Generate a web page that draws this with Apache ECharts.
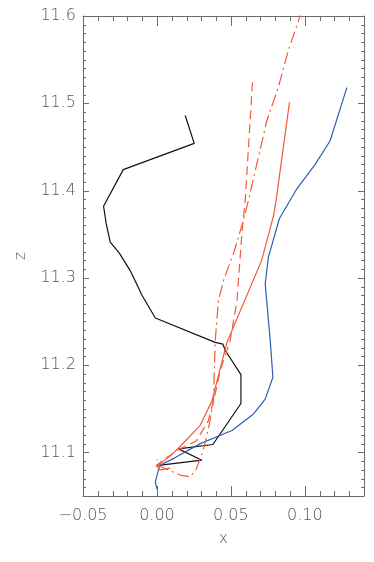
<!DOCTYPE html>
<html>
<head>
<meta charset="utf-8">
<script src="https://cdn.jsdelivr.net/npm/echarts@6/dist/echarts.min.js"></script>
<style>
html, body { margin: 0; padding: 0; background: #fff; }
#chart { width: 374px; height: 562px; }
</style>
</head>
<body>
<div id="chart"></div>
<script>
// 曲线数据 [x, z]
var blackLine = [[0.0191, 11.486], [0.0252, 11.454], [-0.0228, 11.424], [-0.0361, 11.382], [-0.0343, 11.362],
    [-0.0316, 11.341], [-0.0253, 11.328], [-0.0180, 11.308], [-0.0101, 11.280], [-0.0011, 11.254],
    [0.0394, 11.226], [0.0446, 11.224], [0.0461, 11.217], [0.0568, 11.189], [0.0568, 11.156],
    [0.0378, 11.109], [0.0146, 11.104], [0.0304, 11.091], [0.0011, 11.085]];
var blueLine = [[0.0000, 11.058], [-0.0011, 11.066], [0.0018, 11.085], [0.0124, 11.094], [0.0293, 11.110],
    [0.0507, 11.125], [0.0653, 11.144], [0.0732, 11.161], [0.0784, 11.186], [0.0766, 11.228],
    [0.0732, 11.293], [0.0754, 11.324], [0.0828, 11.368], [0.0946, 11.402], [0.1070, 11.430],
    [0.1171, 11.457], [0.1284, 11.518]];
var redSolid = [[0.0896, 11.501], [0.0806, 11.389], [0.0788, 11.371], [0.0708, 11.320], [0.0473, 11.226],
    [0.0372, 11.159], [0.0293, 11.131], [0.0203, 11.115], [0.0146, 11.105], [0.0090, 11.096],
    [0.0022, 11.087], [0.0000, 11.084], [0.0022, 11.080], [0.0090, 11.082]];
var redDashed = [[0.0646, 11.524], [0.0597, 11.389], [0.0574, 11.350], [0.0541, 11.274], [0.0495, 11.228],
    [0.0428, 11.194], [0.0394, 11.167], [0.0347, 11.136], [0.0266, 11.113], [0.0157, 11.104],
    [0.0056, 11.093], [-0.0005, 11.085], [0.0009, 11.079]];
var redDashDot = [[0.0980, 11.606], [0.0889, 11.561], [0.0822, 11.519], [0.0743, 11.480], [0.0676, 11.431],
    [0.0619, 11.389], [0.0585, 11.366], [0.0518, 11.328], [0.0450, 11.297], [0.0416, 11.274],
    [0.0394, 11.228], [0.0382, 11.159], [0.0353, 11.131], [0.0313, 11.102], [0.0266, 11.081],
    [0.0225, 11.072], [0.0157, 11.074], [0.0076, 11.080], [0.0009, 11.085], [0.0002, 11.092]];

// 刻度
var xRange = [-0.05, 0.14];
var yRange = [11.05, 11.6];
var xMajorTicks = [-0.05, 0.00, 0.05, 0.10];
var yMajorTicks = [11.1, 11.2, 11.3, 11.4, 11.5, 11.6];
var minorStep = 0.01;

var axisColor = '#6a6a6a';
var labelColor = '#555';
var labelFont = 'DejaVu Sans';

function fmtX(v) {
    return (v < 0 ? '\u2212' : '') + Math.abs(v).toFixed(2);
}

var labelStyle = { color: labelColor, fontSize: 16, fontFamily: labelFont, fontWeight: 300 };
var nameStyle = { color: labelColor, fontSize: 15, fontFamily: labelFont, fontWeight: 300 };
var lineStyleAxis = { color: axisColor, width: 1 };

function frameAxis(extra, range) {
    return echarts.util.merge({
        type: 'value', min: range[0], max: range[1],
        axisLine: { show: true, onZero: false, lineStyle: lineStyleAxis },
        axisTick: { show: false },
        splitLine: { show: false },
        axisLabel: { show: false }
    }, extra, true);
}

var xAxes = [
    frameAxis({
        position: 'bottom', minInterval: 0.05, maxInterval: 0.05,
        name: 'x', nameLocation: 'middle', nameGap: 36, nameTextStyle: nameStyle,
        axisLabel: echarts.util.extend({ show: true, margin: 12, showMaxLabel: false, formatter: fmtX }, labelStyle)
    }, xRange),
    frameAxis({ position: 'top' }, xRange)
];
var yAxes = [
    frameAxis({
        position: 'left', minInterval: 0.1, maxInterval: 0.1,
        name: 'z', nameLocation: 'middle', nameRotate: 90, nameGap: 54, nameTextStyle: nameStyle,
        axisLabel: echarts.util.extend({
            show: true, margin: 7, showMinLabel: false,
            formatter: function (val) { return val.toFixed(1); }
        }, labelStyle)
    }, yRange),
    frameAxis({ position: 'right' }, yRange)
];

function mkSeries(data, color, type) {
    return {
        type: 'line', data: data, xAxisIndex: 0, yAxisIndex: 0,
        showSymbol: false, symbol: 'none', clip: true,
        lineStyle: { color: color, width: 1.2, type: type || 'solid' }
    };
}

var dom = document.getElementById('chart');
var myChart = echarts.init(dom, null, { renderer: 'canvas' });
var option = {
    animation: false,
    backgroundColor: '#fff',
    grid: { left: 83, right: 10, top: 16, bottom: 66 },
    xAxis: xAxes,
    yAxis: yAxes,
    series: [
        mkSeries(blackLine, '#111111'),
        mkSeries(blueLine, '#2c5fb3'),
        mkSeries(redSolid, '#f25a3c'),
        mkSeries(redDashed, '#f25a3c', [9, 5]),
        mkSeries(redDashDot, '#f25a3c', [12, 4, 2, 4])
    ]
};
myChart.setOption(option);

// 刻度线：用convertToPixel换算位置，四边朝内
function tickLine(x1, y1, x2, y2) {
    return { type: 'line', silent: true, z: 100,
        shape: { x1: x1, y1: y1, x2: x2, y2: y2 },
        style: { stroke: axisColor, lineWidth: 1 } };
}
function xTick(v, len, out) {
    var a = myChart.convertToPixel({ gridIndex: 0 }, [v, yRange[0]]);
    var b = myChart.convertToPixel({ gridIndex: 0 }, [v, yRange[1]]);
    var px = Math.round(a[0]) + 0.5;
    out.push(tickLine(px, a[1], px, a[1] - len));
    out.push(tickLine(px, b[1], px, b[1] + len));
}
function yTick(v, len, out) {
    var a = myChart.convertToPixel({ gridIndex: 0 }, [xRange[0], v]);
    var b = myChart.convertToPixel({ gridIndex: 0 }, [xRange[1], v]);
    var py = Math.round(a[1]) + 0.5;
    out.push(tickLine(a[0], py, a[0] + len, py));
    out.push(tickLine(b[0], py, b[0] - len, py));
}
try {
    var ticks = [];
    var i, v;
    for (i = 1; ; i++) {
        v = +(xRange[0] + i * minorStep).toFixed(4);
        if (v >= xRange[1] - 1e-9) break;
        xTick(v, 5, ticks);
    }
    for (i = 1; ; i++) {
        v = +(yRange[0] + i * minorStep).toFixed(4);
        if (v >= yRange[1] - 1e-9) break;
        yTick(v, 3, ticks);
    }
    xMajorTicks.forEach(function (t) { xTick(t, 10, ticks); });
    yMajorTicks.forEach(function (t) { yTick(t, 6, ticks); });
    myChart.setOption({ graphic: { elements: ticks } });
} catch (e) {
    console.log(e);
}
</script>
</body>
</html>
